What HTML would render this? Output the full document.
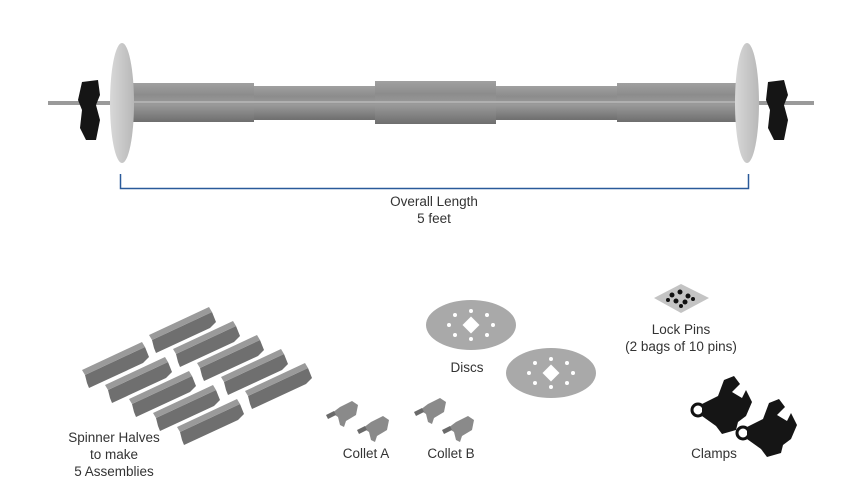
<!DOCTYPE html>
<html><head><style>
html,body{margin:0;padding:0;background:#fff;width:853px;height:499px;overflow:hidden}
svg{display:block}
text{font-family:"Liberation Sans",sans-serif;font-size:13.5px;fill:#333;text-anchor:middle}
</style></head><body>
<svg width="853" height="499" viewBox="0 0 853 499">
<defs>
<linearGradient id="tube" x1="0" y1="0" x2="0" y2="1">
<stop offset="0" stop-color="#a0a0a0"/><stop offset="0.3" stop-color="#8c8c8c"/><stop offset="0.55" stop-color="#9a9a9a"/><stop offset="1" stop-color="#6e6e6e"/>
</linearGradient>
<linearGradient id="disc" x1="0" y1="0" x2="1" y2="0">
<stop offset="0" stop-color="#d8d8d8"/><stop offset="1" stop-color="#b8b8b8"/>
</linearGradient>
<g id="half">
<path d="M0,0 L60,-28 L64,-18 L58,-12 L4,13 L2,8 Z" fill="#6f6f6f"/>
<path d="M0,0 L60,-28 L57,-33 L-3,-5 Z" fill="#9a9a9a"/>
</g>
<g id="collet">
<path d="M0,8 L8,2 L20,-4 L26,0 L24,10 L14,16 L12,22 L8,20 L6,12 Z" fill="#8a8a8a"/>
<path d="M-6,10 L2,6 L4,10 L-4,14 Z" fill="#6a6a6a"/>
</g>
<g id="clampS">
<circle cx="0" cy="0" r="6" fill="none" stroke="#111" stroke-width="3"/>
<path d="M4,-6 L20,-14 L26,-30 L36,-34 L42,-26 L34,-18 L44,-12 L48,-20 L54,-8 L48,6 L40,12 L38,20 L24,24 L18,16 L4,6 Z" fill="#151515"/>
</g>
</defs>
<rect x="48" y="101" width="766" height="4" fill="#9a9a9a"/>
<rect x="128" y="83" width="126" height="39" fill="url(#tube)"/>
<rect x="254" y="86" width="121" height="34" fill="url(#tube)"/>
<rect x="375" y="81" width="121" height="43" fill="url(#tube)"/>
<rect x="496" y="86" width="121" height="34" fill="url(#tube)"/>
<rect x="617" y="83" width="128" height="39" fill="url(#tube)"/>
<rect x="128" y="101" width="617" height="2" fill="#b0b0b0"/>
<ellipse cx="122" cy="103" rx="12" ry="60" fill="url(#disc)"/>
<ellipse cx="747" cy="103" rx="12" ry="60" fill="url(#disc)"/>
<path d="M82,82 L98,80 L100,95 L96,105 L100,120 L96,140 L86,140 L80,128 L82,110 L78,100 Z" fill="#151515"/>
<path d="M768,82 L784,80 L788,95 L784,105 L788,120 L784,140 L774,140 L768,128 L770,110 L766,100 Z" fill="#151515"/>
<path d="M120.5,174 V188.5 H748.5 V174" fill="none" stroke="#2a5a9a" stroke-width="1.5"/>
<text x="434" y="206">Overall Length</text>
<text x="434" y="223">5 feet</text>
<use href="#half" x="85" y="375"/>
<use href="#half" x="108" y="390"/>
<use href="#half" x="132" y="404"/>
<use href="#half" x="156" y="418"/>
<use href="#half" x="180" y="432"/>
<use href="#half" x="152" y="340"/>
<use href="#half" x="176" y="354"/>
<use href="#half" x="200" y="368"/>
<use href="#half" x="224" y="382"/>
<use href="#half" x="248" y="396"/>
<text x="114" y="442">Spinner Halves</text>
<text x="114" y="459">to make</text>
<text x="114" y="476">5 Assemblies</text>
<use href="#collet" x="332" y="405"/>
<use href="#collet" x="363" y="420"/>
<use href="#collet" x="420" y="402"/>
<use href="#collet" x="448" y="420"/>
<text x="366" y="458">Collet A</text>
<text x="451" y="458">Collet B</text>
<ellipse cx="471" cy="325" rx="45" ry="25" fill="#a9a9a9"/>
<rect x="465" y="319" width="12" height="12" fill="#fff" transform="rotate(45 471 325)"/>
<g fill="#fff"><circle cx="449" cy="325" r="2"/><circle cx="493" cy="325" r="2"/><circle cx="471" cy="311" r="2"/><circle cx="471" cy="339" r="2"/><circle cx="455" cy="315" r="2"/><circle cx="487" cy="315" r="2"/><circle cx="455" cy="335" r="2"/><circle cx="487" cy="335" r="2"/></g>
<ellipse cx="551" cy="373" rx="45" ry="25" fill="#a9a9a9"/>
<rect x="545" y="367" width="12" height="12" fill="#fff" transform="rotate(45 551 373)"/>
<g fill="#fff"><circle cx="529" cy="373" r="2"/><circle cx="573" cy="373" r="2"/><circle cx="551" cy="359" r="2"/><circle cx="551" cy="387" r="2"/><circle cx="535" cy="363" r="2"/><circle cx="567" cy="363" r="2"/><circle cx="535" cy="383" r="2"/><circle cx="567" cy="383" r="2"/></g>
<text x="467" y="372">Discs</text>
<path d="M654,298 L681,284 L709,298 L681,313 Z" fill="#c4c4c4"/>
<g fill="#111"><circle cx="672" cy="295" r="2.5"/><circle cx="680" cy="292" r="2.5"/><circle cx="688" cy="296" r="2.5"/><circle cx="676" cy="301" r="2.5"/><circle cx="685" cy="302" r="2.5"/><circle cx="693" cy="299" r="2"/><circle cx="668" cy="300" r="2"/><circle cx="681" cy="306" r="2"/></g>
<text x="681" y="334">Lock Pins</text>
<text x="681" y="351">(2 bags of 10 pins)</text>
<use href="#clampS" x="698" y="410"/>
<use href="#clampS" x="743" y="433"/>
<text x="714" y="458">Clamps</text>
</svg>
</body></html>
